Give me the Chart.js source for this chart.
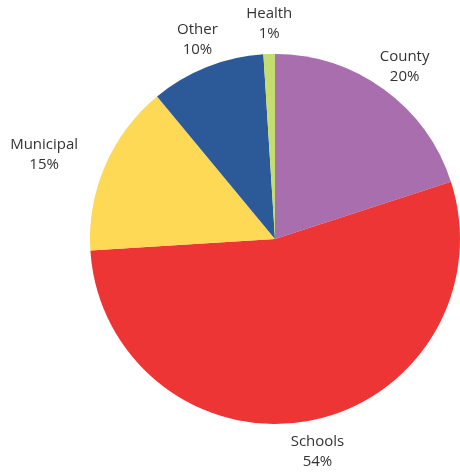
<!DOCTYPE html>
<html>
<head>
<meta charset="utf-8">
<script src="https://cdn.jsdelivr.net/npm/chart.js@4/dist/chart.umd.min.js"></script>
<style>
html,body{margin:0;padding:0;background:#fff;}
#wrap{position:relative;width:460px;height:472px;}
</style>
</head>
<body>
<div id="wrap"><canvas id="c" width="460" height="472"></canvas></div>
<script>
const categories = ["County", "Schools", "Municipal", "Other", "Health"];
const shares = [20, 54, 15, 10, 1];
const percentLabels = ["20%", "54%", "15%", "10%", "1%"];
const sliceColors = ["#A86EAE", "#EE3535", "#FDD955", "#2C5A98", "#C5DC6E"];
// label placement tweaks (radial gap beyond the rim, then dx/dy nudges)
const labelGap = [31, 31, 36, 31, 30];
const labelNudge = [[0,2],[2,1],[-11,4],[2,2],[1,0]];

const outsideLabels = {
  id: 'outsideLabels',
  afterDatasetsDraw(chart) {
    const ctx = chart.ctx;
    const meta = chart.getDatasetMeta(0);
    ctx.save();
    ctx.font = '15px "Open Sans", sans-serif';
    ctx.fillStyle = '#333333';
    ctx.textAlign = 'center';
    ctx.textBaseline = 'middle';
    meta.data.forEach((arc, i) => {
      const mid = (arc.startAngle + arc.endAngle) / 2;
      const r = arc.outerRadius + labelGap[i];
      let x = arc.x + Math.cos(mid) * r;
      let y = arc.y + Math.sin(mid) * r;
      const w = Math.max(ctx.measureText(categories[i]).width, ctx.measureText(percentLabels[i]).width);
      const c = Math.cos(mid);
      if (Math.abs(c) > 0.5) x += Math.sign(c) * (w / 2) * (Math.abs(c) - 0.5) * 1.2;
      x += labelNudge[i][0];
      y += labelNudge[i][1];
      ctx.fillText(categories[i], x, y - 10);
      ctx.fillText(percentLabels[i], x, y + 10);
    });
    ctx.restore();
  }
};

new Chart(document.getElementById('c'), {
  type: 'pie',
  data: {
    labels: categories,
    datasets: [{
      data: shares,
      backgroundColor: sliceColors,
      borderWidth: 0,
      hoverOffset: 0
    }]
  },
  options: {
    responsive: false,
    animation: false,
    layout: { padding: { left: 90, right: 0, top: 54, bottom: 48 } },
    plugins: {
      legend: { display: false },
      tooltip: { enabled: false },
      title: { display: false }
    }
  },
  plugins: [outsideLabels]
});
</script>
</body>
</html>
